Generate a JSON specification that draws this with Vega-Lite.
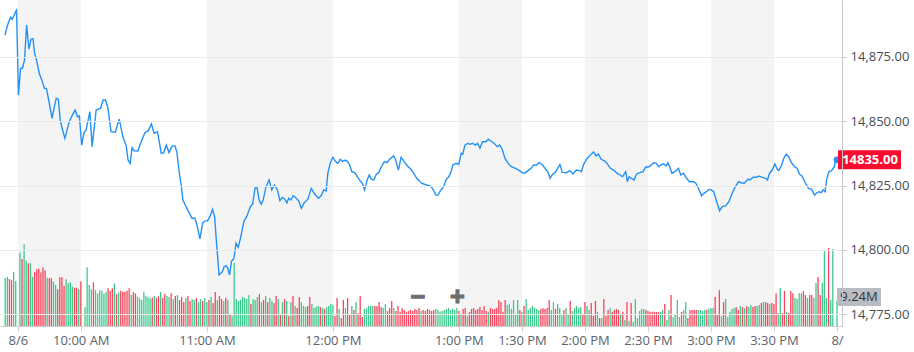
{
"$schema": "https://vega.github.io/schema/vega-lite/v6.json",
"width": 842, "height": 326,
"autosize": {"type": "none"},
"padding": {"left": 0, "top": 0, "right": 72, "bottom": 26},
"background": "white",
"config": {"view": {"stroke": null}, "font": "Open Sans"},
"datasets": {
"bands": [{"m":0,"m2":30},{"m":90,"m2":150},{"m":210,"m2":240},{"m":270,"m2":300},{"m":330,"m2":360}],
"last": [{"m":390,"p":14835,"v":9.24,"lp":"14835.00","lv":"9.24M"}],
"price": [
{"m":-6.1,"p":14883.4},{"m":-5.3,"p":14886.0},{"m":-4.6,"p":14888.0},{"m":-3.4,"p":14890.3},{"m":-2.7,"p":14889.5},{"m":-1.9,"p":14890.8},{"m":-0.9,"p":14892.7},{"m":-0.6,"p":14893.1},{"m":0.3,"p":14860.1},{"m":1.3,"p":14870.5},{"m":2.2,"p":14870.5},{"m":3.2,"p":14873.7},{"m":4.2,"p":14887.3},{"m":5.3,"p":14877.9},{"m":6.3,"p":14881.8},{"m":7.2,"p":14882.1},{"m":8.0,"p":14876.3},{"m":8.9,"p":14873.7},{"m":10.2,"p":14868.6},{"m":11.4,"p":14866.0},{"m":12.7,"p":14862.7},{"m":13.6,"p":14862.7},{"m":14.7,"p":14858.2},{"m":16.3,"p":14851.1},{"m":17.4,"p":14855.6},{"m":18.3,"p":14858.9},{"m":19.3,"p":14858.5},{"m":20.2,"p":14850.4},{"m":21.3,"p":14846.6},{"m":22.4,"p":14843.3},{"m":24.5,"p":14849.8},{"m":26.0,"p":14852.4},{"m":27.3,"p":14854.3},{"m":28.4,"p":14851.7},{"m":29.3,"p":14852.0},{"m":30.4,"p":14840.7},{"m":31.5,"p":14845.5},{"m":32.5,"p":14846.6},{"m":34.3,"p":14853.7},{"m":35.4,"p":14840.1},{"m":37.3,"p":14854.3},{"m":39.4,"p":14855.0},{"m":40.6,"p":14858.2},{"m":41.7,"p":14858.2},{"m":42.8,"p":14855.6},{"m":44.4,"p":14845.9},{"m":46.4,"p":14845.7},{"m":48.3,"p":14850.8},{"m":50.0,"p":14844.0},{"m":51.6,"p":14840.5},{"m":52.5,"p":14834.9},{"m":53.5,"p":14833.6},{"m":54.4,"p":14839.7},{"m":55.4,"p":14838.5},{"m":57.2,"p":14838.4},{"m":58.5,"p":14841.6},{"m":60.5,"p":14845.5},{"m":62.1,"p":14846.3},{"m":63.6,"p":14848.9},{"m":64.9,"p":14845.3},{"m":66.5,"p":14845.9},{"m":68.3,"p":14837.5},{"m":69.5,"p":14837.8},{"m":70.7,"p":14840.7},{"m":72.0,"p":14837.8},{"m":73.5,"p":14840.4},{"m":74.8,"p":14840.4},{"m":75.7,"p":14838.1},{"m":77.0,"p":14829.1},{"m":77.8,"p":14825.2},{"m":78.6,"p":14819.4},{"m":80.1,"p":14816.8},{"m":81.7,"p":14814.2},{"m":82.9,"p":14812.3},{"m":84.3,"p":14812.3},{"m":85.3,"p":14809.7},{"m":86.7,"p":14804.3},{"m":88.0,"p":14810.4},{"m":89.2,"p":14811.3},{"m":90.3,"p":14811.3},{"m":91.6,"p":14813.2},{"m":92.7,"p":14815.8},{"m":93.7,"p":14812.9},{"m":94.5,"p":14803.9},{"m":95.8,"p":14790.3},{"m":97.4,"p":14791.6},{"m":98.2,"p":14793.5},{"m":99.2,"p":14793.9},{"m":100.0,"p":14792.9},{"m":100.8,"p":14790.3},{"m":101.7,"p":14795.5},{"m":102.9,"p":14796.8},{"m":103.9,"p":14802.6},{"m":104.9,"p":14801.0},{"m":106.0,"p":14804.5},{"m":107.6,"p":14811.0},{"m":109.1,"p":14813.2},{"m":110.7,"p":14816.8},{"m":111.8,"p":14817.8},{"m":113.0,"p":14824.2},{"m":113.8,"p":14824.6},{"m":114.9,"p":14819.4},{"m":115.9,"p":14817.7},{"m":116.8,"p":14819.4},{"m":118.1,"p":14824.3},{"m":119.6,"p":14827.2},{"m":120.9,"p":14823.3},{"m":122.2,"p":14825.2},{"m":123.6,"p":14823.3},{"m":124.8,"p":14819.1},{"m":125.9,"p":14820.4},{"m":127.1,"p":14819.7},{"m":128.1,"p":14818.3},{"m":129.0,"p":14820.1},{"m":130.0,"p":14819.4},{"m":131.1,"p":14821.0},{"m":132.6,"p":14820.1},{"m":133.7,"p":14819.1},{"m":135.0,"p":14816.2},{"m":136.3,"p":14818.3},{"m":138.1,"p":14819.7},{"m":139.7,"p":14823.9},{"m":141.3,"p":14821.7},{"m":143.1,"p":14820.1},{"m":144.4,"p":14821.0},{"m":145.7,"p":14823.3},{"m":146.8,"p":14822.9},{"m":147.6,"p":14829.8},{"m":148.8,"p":14833.9},{"m":150.0,"p":14836.0},{"m":151.1,"p":14834.5},{"m":152.3,"p":14833.6},{"m":153.5,"p":14835.2},{"m":154.6,"p":14834.3},{"m":155.8,"p":14834.9},{"m":157.0,"p":14834.3},{"m":158.0,"p":14833.0},{"m":159.0,"p":14830.4},{"m":160.4,"p":14830.0},{"m":161.7,"p":14828.4},{"m":162.9,"p":14826.9},{"m":164.0,"p":14825.9},{"m":165.1,"p":14823.3},{"m":166.4,"p":14827.4},{"m":167.3,"p":14829.1},{"m":168.3,"p":14827.4},{"m":169.5,"p":14827.2},{"m":170.7,"p":14829.4},{"m":171.8,"p":14830.0},{"m":173.1,"p":14832.3},{"m":174.5,"p":14834.3},{"m":175.8,"p":14833.9},{"m":177.0,"p":14835.2},{"m":178.9,"p":14836.5},{"m":179.8,"p":14835.2},{"m":181.2,"p":14831.0},{"m":182.5,"p":14836.0},{"m":183.9,"p":14834.3},{"m":185.5,"p":14832.6},{"m":187.1,"p":14831.3},{"m":188.3,"p":14830.0},{"m":189.9,"p":14827.8},{"m":191.1,"p":14826.9},{"m":192.2,"p":14825.9},{"m":193.3,"p":14825.6},{"m":194.6,"p":14825.2},{"m":196.5,"p":14824.8},{"m":197.7,"p":14823.5},{"m":199.0,"p":14821.3},{"m":200.0,"p":14821.3},{"m":201.2,"p":14823.0},{"m":202.7,"p":14824.6},{"m":204.0,"p":14827.4},{"m":205.2,"p":14828.4},{"m":206.3,"p":14830.4},{"m":207.1,"p":14833.0},{"m":208.7,"p":14833.6},{"m":209.9,"p":14833.2},{"m":211.1,"p":14837.5},{"m":211.8,"p":14837.2},{"m":212.9,"p":14840.7},{"m":214.2,"p":14841.4},{"m":215.3,"p":14841.0},{"m":216.5,"p":14841.4},{"m":217.8,"p":14840.7},{"m":218.9,"p":14841.4},{"m":220.0,"p":14839.5},{"m":221.2,"p":14842.0},{"m":222.8,"p":14842.0},{"m":224.0,"p":14843.0},{"m":225.2,"p":14842.3},{"m":226.7,"p":14841.4},{"m":228.3,"p":14840.1},{"m":229.4,"p":14840.7},{"m":230.6,"p":14839.1},{"m":231.9,"p":14835.6},{"m":233.4,"p":14833.6},{"m":235.0,"p":14832.3},{"m":236.9,"p":14831.7},{"m":238.5,"p":14831.0},{"m":240.0,"p":14830.0},{"m":241.3,"p":14829.8},{"m":242.9,"p":14830.8},{"m":244.4,"p":14831.7},{"m":245.5,"p":14833.0},{"m":247.1,"p":14833.0},{"m":248.2,"p":14834.0},{"m":249.8,"p":14833.0},{"m":251.0,"p":14831.7},{"m":252.3,"p":14830.4},{"m":253.4,"p":14827.8},{"m":254.6,"p":14829.4},{"m":255.7,"p":14830.0},{"m":257.0,"p":14831.7},{"m":258.1,"p":14833.2},{"m":259.2,"p":14830.1},{"m":261.2,"p":14830.0},{"m":262.8,"p":14830.8},{"m":264.3,"p":14829.5},{"m":265.9,"p":14831.0},{"m":267.5,"p":14830.8},{"m":268.3,"p":14830.4},{"m":269.5,"p":14833.4},{"m":271.1,"p":14835.6},{"m":272.7,"p":14836.9},{"m":274.1,"p":14838.1},{"m":275.3,"p":14836.5},{"m":276.4,"p":14837.2},{"m":277.7,"p":14835.2},{"m":279.3,"p":14834.6},{"m":280.5,"p":14833.6},{"m":282.1,"p":14831.7},{"m":283.6,"p":14831.0},{"m":285.2,"p":14829.8},{"m":286.8,"p":14829.1},{"m":287.9,"p":14828.4},{"m":289.4,"p":14830.4},{"m":290.2,"p":14826.5},{"m":291.0,"p":14828.4},{"m":292.1,"p":14827.8},{"m":293.4,"p":14827.2},{"m":294.6,"p":14829.5},{"m":296.2,"p":14830.0},{"m":297.7,"p":14830.4},{"m":298.8,"p":14832.1},{"m":300.4,"p":14832.3},{"m":301.6,"p":14833.0},{"m":302.8,"p":14833.9},{"m":304.0,"p":14833.6},{"m":305.1,"p":14832.3},{"m":306.2,"p":14833.0},{"m":307.5,"p":14833.4},{"m":308.7,"p":14832.6},{"m":309.5,"p":14833.9},{"m":310.6,"p":14831.7},{"m":311.4,"p":14829.8},{"m":312.9,"p":14830.4},{"m":314.5,"p":14831.7},{"m":315.6,"p":14829.1},{"m":316.9,"p":14829.8},{"m":318.1,"p":14828.2},{"m":319.7,"p":14826.5},{"m":321.6,"p":14826.5},{"m":322.8,"p":14825.9},{"m":324.4,"p":14823.3},{"m":325.5,"p":14821.0},{"m":326.6,"p":14822.0},{"m":327.8,"p":14822.6},{"m":328.9,"p":14823.5},{"m":330.2,"p":14823.3},{"m":331.3,"p":14822.6},{"m":332.5,"p":14819.4},{"m":334.1,"p":14815.2},{"m":335.4,"p":14816.8},{"m":336.9,"p":14817.1},{"m":338.5,"p":14818.7},{"m":340.1,"p":14822.0},{"m":341.6,"p":14824.6},{"m":343.2,"p":14826.5},{"m":344.3,"p":14826.1},{"m":345.9,"p":14825.9},{"m":347.5,"p":14827.4},{"m":348.5,"p":14827.2},{"m":350.1,"p":14828.2},{"m":351.7,"p":14828.2},{"m":352.9,"p":14828.7},{"m":354.5,"p":14828.2},{"m":356.1,"p":14827.8},{"m":356.9,"p":14827.2},{"m":357.9,"p":14829.8},{"m":359.2,"p":14831.0},{"m":360.4,"p":14833.4},{"m":361.6,"p":14831.3},{"m":362.3,"p":14830.8},{"m":363.6,"p":14833.0},{"m":364.7,"p":14835.6},{"m":365.8,"p":14837.2},{"m":367.0,"p":14836.2},{"m":368.3,"p":14833.9},{"m":369.8,"p":14832.3},{"m":371.0,"p":14831.7},{"m":372.1,"p":14829.5},{"m":373.3,"p":14828.7},{"m":374.9,"p":14826.1},{"m":376.4,"p":14823.9},{"m":378.0,"p":14823.5},{"m":379.3,"p":14821.3},{"m":380.4,"p":14822.2},{"m":381.5,"p":14822.6},{"m":382.4,"p":14822.2},{"m":383.5,"p":14823.3},{"m":384.3,"p":14822.6},{"m":385.1,"p":14827.4},{"m":386.2,"p":14830.4},{"m":387.4,"p":14830.8},{"m":388.7,"p":14832.3},{"m":389.3,"p":14834.9},{"m":390,"p":14835.0}
],
"vol": [
{"m":-6,"v":17.7,"c":"G"},{"m":-5,"v":18.0,"c":"G"},{"m":-4,"v":17.3,"c":"R"},{"m":-3,"v":16.9,"c":"R"},{"m":-2,"v":19.9,"c":"G"},{"m":-1,"v":16.6,"c":"G"},
{"m":1,"v":27.1,"c":"G"},{"m":2,"v":24.7,"c":"R"},{"m":3,"v":30.1,"c":"G"},{"m":4,"v":24.0,"c":"G"},{"m":5,"v":23.1,"c":"R"},{"m":6,"v":23.1,"c":"G"},{"m":7,"v":18.1,"c":"G"},{"m":8,"v":19.8,"c":"R"},{"m":9,"v":20.9,"c":"R"},{"m":10,"v":21.2,"c":"R"},{"m":11,"v":19.8,"c":"R"},{"m":12,"v":21.6,"c":"R"},{"m":13,"v":20.4,"c":"R"},{"m":14,"v":17.8,"c":"G"},{"m":15,"v":17.6,"c":"R"},{"m":16,"v":17.6,"c":"R"},{"m":17,"v":16.3,"c":"G"},{"m":18,"v":15.1,"c":"G"},{"m":19,"v":13.5,"c":"R"},{"m":20,"v":17.9,"c":"R"},{"m":21,"v":17.9,"c":"R"},{"m":22,"v":14.8,"c":"R"},{"m":23,"v":17.2,"c":"G"},{"m":24,"v":15.7,"c":"G"},{"m":25,"v":16.1,"c":"G"},{"m":26,"v":14.5,"c":"G"},{"m":27,"v":14.1,"c":"R"},{"m":28,"v":14.1,"c":"R"},{"m":29,"v":13.5,"c":"G"},{"m":30,"v":16.4,"c":"R"},
{"m":32,"v":6.9,"c":"G"},{"m":33,"v":21.6,"c":"G"},{"m":34,"v":15.1,"c":"G"},{"m":35,"v":13.5,"c":"G"},{"m":36,"v":16.1,"c":"R"},{"m":37,"v":13.2,"c":"G"},{"m":38,"v":12.0,"c":"G"},{"m":39,"v":13.2,"c":"G"},{"m":40,"v":13.0,"c":"G"},{"m":41,"v":12.0,"c":"G"},{"m":42,"v":12.6,"c":"G"},{"m":43,"v":13.9,"c":"R"},{"m":44,"v":13.0,"c":"R"},{"m":45,"v":13.9,"c":"R"},{"m":46,"v":15.7,"c":"G"},{"m":47,"v":11.7,"c":"R"},{"m":48,"v":12.4,"c":"G"},{"m":49,"v":13.0,"c":"R"},{"m":50,"v":12.6,"c":"R"},{"m":51,"v":12.6,"c":"R"},{"m":52,"v":13.0,"c":"R"},{"m":53,"v":13.9,"c":"R"},{"m":54,"v":11.4,"c":"G"},{"m":55,"v":12.4,"c":"R"},{"m":56,"v":12.0,"c":"R"},{"m":57,"v":10.8,"c":"G"},{"m":58,"v":10.2,"c":"G"},{"m":59,"v":9.6,"c":"G"},{"m":60,"v":12.6,"c":"G"},{"m":61,"v":11.0,"c":"G"},{"m":62,"v":10.6,"c":"G"},{"m":63,"v":10.2,"c":"G"},{"m":64,"v":10.5,"c":"R"},{"m":65,"v":11.0,"c":"G"},{"m":66,"v":10.3,"c":"R"},
{"m":67,"v":11.0,"c":"R"},{"m":68,"v":12.5,"c":"G"},{"m":69,"v":10.3,"c":"R"},{"m":70,"v":11.8,"c":"R"},{"m":71,"v":11.0,"c":"G"},{"m":72,"v":10.7,"c":"G"},{"m":73,"v":12.1,"c":"R"},{"m":74,"v":9.9,"c":"G"},{"m":75,"v":11.0,"c":"R"},{"m":76,"v":11.4,"c":"G"},{"m":77,"v":9.6,"c":"R"},{"m":78,"v":10.7,"c":"R"},{"m":79,"v":8.8,"c":"R"},{"m":80,"v":10.3,"c":"G"},{"m":81,"v":11.0,"c":"R"},{"m":82,"v":9.2,"c":"R"},{"m":83,"v":9.9,"c":"G"},{"m":84,"v":9.6,"c":"G"},{"m":85,"v":10.3,"c":"R"},{"m":86,"v":8.8,"c":"G"},{"m":87,"v":9.9,"c":"G"},{"m":88,"v":9.2,"c":"R"},{"m":89,"v":10.3,"c":"G"},{"m":90,"v":8.8,"c":"G"},{"m":91,"v":9.6,"c":"R"},{"m":92,"v":10.7,"c":"G"},{"m":93,"v":8.5,"c":"R"},{"m":94,"v":12.5,"c":"R"},{"m":95,"v":9.6,"c":"G"},{"m":96,"v":11.0,"c":"R"},{"m":97,"v":9.9,"c":"R"},{"m":98,"v":9.2,"c":"G"},{"m":99,"v":10.3,"c":"R"},{"m":100,"v":9.6,"c":"G"},{"m":101,"v":4.4,"c":"R"},{"m":102,"v":3.7,"c":"G"},{"m":103,"v":23.2,"c":"G"},{"m":104,"v":9.9,"c":"G"},{"m":105,"v":9.2,"c":"G"},{"m":106,"v":9.6,"c":"G"},{"m":107,"v":10.7,"c":"G"},{"m":108,"v":10.3,"c":"G"},{"m":109,"v":9.9,"c":"G"},{"m":110,"v":11.4,"c":"G"},{"m":111,"v":8.1,"c":"R"},{"m":112,"v":9.9,"c":"G"},{"m":113,"v":9.6,"c":"G"},{"m":114,"v":10.7,"c":"G"},{"m":115,"v":11.8,"c":"R"},{"m":116,"v":8.8,"c":"G"},{"m":117,"v":9.6,"c":"R"},{"m":118,"v":11.0,"c":"G"},{"m":119,"v":8.8,"c":"R"},{"m":120,"v":10.3,"c":"G"},{"m":121,"v":9.2,"c":"G"},{"m":122,"v":8.5,"c":"R"},{"m":123,"v":11.0,"c":"R"},{"m":124,"v":9.9,"c":"G"},{"m":125,"v":4.4,"c":"R"},{"m":126,"v":8.8,"c":"G"},{"m":127,"v":9.9,"c":"R"},{"m":128,"v":9.2,"c":"G"},{"m":129,"v":3.7,"c":"R"},{"m":130,"v":8.8,"c":"G"},{"m":131,"v":11.0,"c":"R"},{"m":132,"v":7.4,"c":"G"},{"m":133,"v":6.6,"c":"R"},{"m":134,"v":10.7,"c":"R"},{"m":135,"v":8.8,"c":"G"},{"m":136,"v":7.4,"c":"G"},{"m":137,"v":7.0,"c":"G"},{"m":138,"v":7.4,"c":"R"},{"m":139,"v":10.7,"c":"R"},{"m":140,"v":8.1,"c":"G"},{"m":141,"v":6.6,"c":"G"},{"m":142,"v":7.0,"c":"G"},{"m":143,"v":7.4,"c":"G"},{"m":144,"v":7.0,"c":"R"},{"m":145,"v":6.6,"c":"G"},{"m":146,"v":6.3,"c":"R"},{"m":147,"v":7.0,"c":"G"},{"m":148,"v":7.4,"c":"G"},{"m":149,"v":8.1,"c":"G"},{"m":150,"v":7.7,"c":"G"},{"m":151,"v":3.7,"c":"R"},{"m":152,"v":10.3,"c":"R"},{"m":153,"v":6.3,"c":"G"},{"m":154,"v":2.9,"c":"R"},{"m":155,"v":9.6,"c":"R"},{"m":156,"v":6.6,"c":"G"},{"m":157,"v":10.3,"c":"R"},{"m":158,"v":4.4,"c":"R"},{"m":159,"v":7.4,"c":"G"},{"m":160,"v":5.9,"c":"R"},{"m":161,"v":8.8,"c":"G"},{"m":162,"v":4.8,"c":"R"},{"m":163,"v":11.0,"c":"R"},{"m":164,"v":3.3,"c":"R"},{"m":165,"v":6.3,"c":"G"},{"m":166,"v":6.6,"c":"G"},{"m":167,"v":7.4,"c":"G"},{"m":168,"v":7.4,"c":"G"},{"m":169,"v":7.4,"c":"G"},{"m":170,"v":7.4,"c":"R"},{"m":171,"v":7.4,"c":"R"},{"m":172,"v":8.8,"c":"R"},{"m":173,"v":7.0,"c":"R"},{"m":174,"v":6.6,"c":"G"},{"m":175,"v":8.1,"c":"G"},{"m":176,"v":5.5,"c":"R"},{"m":177,"v":6.6,"c":"R"},{"m":178,"v":9.2,"c":"R"},{"m":179,"v":6.6,"c":"G"},{"m":180,"v":5.5,"c":"R"},{"m":181,"v":7.4,"c":"R"},{"m":182,"v":5.2,"c":"R"},{"m":183,"v":6.6,"c":"R"},{"m":184,"v":5.9,"c":"R"},{"m":185,"v":5.2,"c":"R"},{"m":186,"v":5.5,"c":"R"},{"m":187,"v":5.9,"c":"R"},{"m":188,"v":5.5,"c":"R"},{"m":189,"v":6.3,"c":"R"},{"m":190,"v":5.9,"c":"R"},{"m":191,"v":6.6,"c":"R"},{"m":192,"v":5.5,"c":"G"},{"m":193,"v":5.9,"c":"R"},{"m":194,"v":5.5,"c":"R"},{"m":195,"v":6.3,"c":"R"},{"m":196,"v":5.9,"c":"R"},{"m":197,"v":5.5,"c":"R"},{"m":198,"v":5.9,"c":"R"},{"m":199,"v":6.3,"c":"G"},{"m":200,"v":5.9,"c":"G"},{"m":201,"v":5.2,"c":"G"},{"m":202,"v":5.5,"c":"G"},{"m":203,"v":5.9,"c":"G"},{"m":204,"v":6.3,"c":"G"},{"m":205,"v":6.6,"c":"G"},{"m":206,"v":5.9,"c":"G"},{"m":207,"v":6.3,"c":"G"},{"m":208,"v":5.9,"c":"G"},{"m":209,"v":6.6,"c":"G"},{"m":210,"v":5.5,"c":"R"},{"m":211,"v":4.4,"c":"G"},{"m":212,"v":6.3,"c":"R"},{"m":213,"v":6.6,"c":"R"},{"m":214,"v":3.7,"c":"G"},{"m":215,"v":5.2,"c":"R"},{"m":216,"v":6.3,"c":"R"},{"m":217,"v":6.6,"c":"R"},{"m":218,"v":5.9,"c":"R"},{"m":219,"v":6.3,"c":"R"},{"m":220,"v":7.0,"c":"R"},{"m":221,"v":5.9,"c":"R"},{"m":222,"v":7.4,"c":"R"},{"m":223,"v":5.5,"c":"R"},{"m":224,"v":5.2,"c":"G"},{"m":225,"v":6.6,"c":"R"},{"m":226,"v":6.3,"c":"R"},{"m":227,"v":6.3,"c":"R"},{"m":228,"v":6.6,"c":"R"},{"m":229,"v":9.6,"c":"R"},{"m":230,"v":8.8,"c":"R"},{"m":231,"v":5.2,"c":"R"},{"m":232,"v":9.6,"c":"R"},{"m":233,"v":7.7,"c":"G"},{"m":234,"v":8.1,"c":"G"},{"m":235,"v":6.3,"c":"G"},{"m":236,"v":9.6,"c":"G"},{"m":237,"v":4.4,"c":"G"},{"m":238,"v":9.6,"c":"G"},{"m":239,"v":5.9,"c":"R"},{"m":240,"v":5.2,"c":"G"},{"m":241,"v":7.4,"c":"R"},{"m":242,"v":9.9,"c":"G"},{"m":243,"v":5.9,"c":"G"},{"m":244,"v":6.6,"c":"G"},{"m":245,"v":7.4,"c":"G"},{"m":246,"v":6.6,"c":"G"},{"m":247,"v":6.3,"c":"G"},{"m":248,"v":5.9,"c":"G"},{"m":249,"v":6.3,"c":"R"},{"m":250,"v":6.6,"c":"R"},{"m":251,"v":6.3,"c":"R"},{"m":252,"v":6.6,"c":"R"},{"m":253,"v":9.6,"c":"R"},{"m":254,"v":5.9,"c":"G"},{"m":255,"v":8.8,"c":"G"},{"m":256,"v":6.3,"c":"R"},{"m":257,"v":8.1,"c":"G"},{"m":258,"v":6.6,"c":"G"},{"m":259,"v":4.0,"c":"G"},{"m":260,"v":5.9,"c":"R"},{"m":261,"v":6.6,"c":"G"},{"m":262,"v":4.4,"c":"G"},{"m":263,"v":9.2,"c":"R"},{"m":264,"v":5.5,"c":"G"},{"m":265,"v":6.6,"c":"G"},{"m":266,"v":7.4,"c":"G"},{"m":267,"v":6.6,"c":"G"},{"m":268,"v":7.0,"c":"G"},{"m":269,"v":4.4,"c":"R"},{"m":270,"v":8.8,"c":"R"},{"m":271,"v":7.4,"c":"G"},{"m":272,"v":5.9,"c":"G"},{"m":273,"v":8.5,"c":"R"},{"m":274,"v":3.7,"c":"R"},{"m":275,"v":9.2,"c":"R"},{"m":276,"v":5.2,"c":"G"},
{"m":277,"v":2.9,"c":"R"},{"m":278,"v":2.9,"c":"G"},{"m":279,"v":9.9,"c":"R"},{"m":280,"v":3.7,"c":"R"},{"m":281,"v":5.9,"c":"R"},{"m":282,"v":6.6,"c":"G"},{"m":283,"v":5.2,"c":"R"},{"m":284,"v":5.9,"c":"R"},{"m":285,"v":6.3,"c":"R"},{"m":286,"v":5.9,"c":"R"},{"m":287,"v":4.4,"c":"G"},{"m":288,"v":5.2,"c":"R"},{"m":289,"v":2.2,"c":"G"},{"m":290,"v":8.8,"c":"R"},{"m":291,"v":1.8,"c":"G"},{"m":292,"v":8.5,"c":"R"},{"m":293,"v":1.5,"c":"G"},{"m":294,"v":9.9,"c":"G"},{"m":295,"v":2.9,"c":"G"},{"m":296,"v":5.5,"c":"G"},{"m":297,"v":6.3,"c":"G"},{"m":298,"v":6.3,"c":"G"},{"m":299,"v":5.9,"c":"R"},{"m":300,"v":5.5,"c":"R"},{"m":301,"v":5.2,"c":"R"},{"m":302,"v":5.2,"c":"R"},{"m":303,"v":5.2,"c":"R"},{"m":304,"v":5.2,"c":"R"},{"m":305,"v":5.2,"c":"R"},{"m":306,"v":5.2,"c":"G"},{"m":307,"v":5.9,"c":"G"},{"m":308,"v":8.1,"c":"R"},{"m":309,"v":2.2,"c":"G"},{"m":310,"v":5.9,"c":"G"},{"m":311,"v":11.4,"c":"R"},{"m":312,"v":3.3,"c":"G"},{"m":313,"v":4.4,"c":"G"},{"m":314,"v":9.6,"c":"G"},{"m":315,"v":3.3,"c":"G"},{"m":316,"v":5.2,"c":"R"},{"m":317,"v":5.9,"c":"G"},{"m":318,"v":8.8,"c":"G"},{"m":319,"v":2.9,"c":"R"},{"m":320,"v":5.9,"c":"R"},{"m":321,"v":5.9,"c":"R"},{"m":322,"v":5.9,"c":"R"},{"m":323,"v":5.9,"c":"R"},{"m":324,"v":5.9,"c":"G"},{"m":325,"v":5.9,"c":"G"},{"m":326,"v":5.5,"c":"G"},{"m":327,"v":5.9,"c":"G"},{"m":328,"v":5.9,"c":"R"},{"m":329,"v":6.3,"c":"G"},{"m":330,"v":6.6,"c":"G"},{"m":331,"v":6.6,"c":"G"},{"m":332,"v":10.7,"c":"R"},{"m":333,"v":4.0,"c":"R"},{"m":334,"v":13.2,"c":"R"},{"m":335,"v":3.7,"c":"G"},{"m":336,"v":8.8,"c":"R"},{"m":337,"v":9.9,"c":"G"},{"m":338,"v":3.3,"c":"G"},{"m":339,"v":5.2,"c":"G"},{"m":340,"v":6.3,"c":"G"},{"m":341,"v":6.6,"c":"G"},{"m":342,"v":7.0,"c":"R"},{"m":343,"v":5.9,"c":"R"},{"m":344,"v":7.4,"c":"G"},{"m":345,"v":7.0,"c":"R"},{"m":346,"v":6.6,"c":"G"},{"m":347,"v":7.4,"c":"R"},{"m":348,"v":7.0,"c":"G"},{"m":349,"v":7.7,"c":"G"},{"m":350,"v":7.0,"c":"R"},{"m":351,"v":7.4,"c":"R"},{"m":352,"v":7.4,"c":"G"},{"m":353,"v":7.7,"c":"G"},{"m":354,"v":8.5,"c":"R"},{"m":355,"v":8.8,"c":"G"},{"m":356,"v":8.8,"c":"R"},{"m":357,"v":8.5,"c":"R"},{"m":358,"v":8.1,"c":"G"},{"m":359,"v":8.5,"c":"R"},{"m":360,"v":8.1,"c":"R"},{"m":361,"v":12.1,"c":"R"},{"m":362,"v":4.8,"c":"G"},{"m":363,"v":14.0,"c":"G"},{"m":364,"v":4.8,"c":"R"},{"m":365,"v":12.9,"c":"R"},{"m":366,"v":5.2,"c":"G"},{"m":367,"v":4.8,"c":"R"},{"m":368,"v":12.9,"c":"R"},
{"m":369,"v":12.1,"c":"R"},{"m":370,"v":10.3,"c":"G"},{"m":371,"v":9.9,"c":"G"},{"m":372,"v":12.1,"c":"G"},{"m":373,"v":12.1,"c":"G"},{"m":374,"v":12.9,"c":"R"},{"m":375,"v":11.4,"c":"R"},{"m":376,"v":10.3,"c":"G"},{"m":377,"v":11.4,"c":"R"},{"m":378,"v":11.4,"c":"R"},{"m":379,"v":10.3,"c":"G"},{"m":380,"v":15.8,"c":"G"},{"m":381,"v":18.0,"c":"R"},{"m":382,"v":11.4,"c":"R"},{"m":383,"v":15.8,"c":"G"},{"m":384,"v":28.0,"c":"G"},{"m":385,"v":10.3,"c":"G"},{"m":386,"v":28.7,"c":"R"},{"m":387,"v":9.6,"c":"G"},{"m":388,"v":28.3,"c":"G"},{"m":390,"v":9.24,"c":"G"}
]
},
"encoding": {
  "x": {"field": "m", "type": "quantitative",
    "scale": {"domain": [-6.1, 390], "nice": false, "zero": false},
    "axis": {"values": [0,30,90,150,210,240,270,300,330,360,390],
      "labelExpr": "datum.value == 0 ? '8/6' : datum.value == 30 ? '10:00 AM' : datum.value == 90 ? '11:00 AM' : datum.value == 150 ? '12:00 PM' : datum.value == 210 ? '1:00 PM' : datum.value == 240 ? '1:30 PM' : datum.value == 270 ? '2:00 PM' : datum.value == 300 ? '2:30 PM' : datum.value == 330 ? '3:00 PM' : datum.value == 360 ? '3:30 PM' : '8/'",
      "title": null, "grid": false, "domainColor": "#cfcfcf", "tickColor": "#cfcfcf", "tickSize": 5,
      "labelPadding": 3, "labelFontSize": 13, "labelColor": "#5b636a", "labelFont": "Open Sans",
      "labelFlush": true, "labelOverlap": false}}
},
"layer": [
  {"data": {"name": "bands"}, "mark": {"type": "rect", "color": "#f4f4f4"},
   "encoding": {"x2": {"field": "m2"}}},
  {"data": {"name": "vol"}, "mark": {"type": "bar", "size": 1.3},
   "encoding": {
     "y": {"field": "v", "type": "quantitative", "scale": {"domain": [0, 120], "nice": false, "zero": true}, "axis": null},
     "color": {"field": "c", "type": "nominal", "scale": {"domain": ["G", "R"], "range": ["#3dc98d", "#f8445a"]}, "legend": null}}},
  {"data": {"name": "price"}, "mark": {"type": "line", "color": "#2391f5", "strokeWidth": 1.4},
   "encoding": {
     "y": {"field": "p", "type": "quantitative", "scale": {"domain": [14770.5, 14897], "nice": false, "zero": false},
       "axis": {"orient": "right", "values": [14775, 14800, 14825, 14850, 14875], "format": ",.2f", "title": null,
         "grid": true, "gridColor": "#ebebeb", "domainColor": "#c4c4c4", "tickColor": "#c4c4c4", "tickSize": 4,
         "labelPadding": 4, "labelFontSize": 13, "labelColor": "#464e56", "labelFont": "Open Sans", "zindex": 1}}}},
  {"data": {"name": "last"}, "mark": {"type": "point", "filled": true, "size": 45, "color": "#2391f5", "opacity": 1},
   "encoding": {"y": {"field": "p", "type": "quantitative", "scale": {"domain": [14770.5, 14897], "nice": false, "zero": false}, "axis": null}}},
  {"data": {"name": "last"}, "mark": {"type": "point", "shape": "M0,-0.3016L2,-0.3016L2,0.3016L0,0.3016Z", "size": 3969, "filled": true, "color": "#fb0b2f", "opacity": 1, "xOffset": 1},
   "encoding": {"y": {"field": "p", "type": "quantitative", "scale": {"domain": [14770.5, 14897], "nice": false, "zero": false}, "axis": null}}},
  {"data": {"name": "last"}, "mark": {"type": "text", "dx": 33, "align": "center", "baseline": "middle", "fontWeight": "bold", "fontSize": 13, "color": "white", "font": "Open Sans"},
   "encoding": {"y": {"field": "p", "type": "quantitative", "scale": {"domain": [14770.5, 14897], "nice": false, "zero": false}, "axis": null}, "text": {"field": "lp"}}},
  {"data": {"name": "last"}, "mark": {"type": "point", "shape": "M0,-0.409L2,-0.409L2,0.409L0,0.409Z", "size": 1936, "filled": true, "color": "#b9bcc3", "opacity": 1, "yOffset": -4},
   "encoding": {"y": {"field": "v", "type": "quantitative", "scale": {"domain": [0, 120], "nice": false, "zero": true}, "axis": null}}},
  {"data": {"name": "last"}, "mark": {"type": "text", "dx": 22, "dy": -4, "align": "center", "baseline": "middle", "fontSize": 13, "color": "#2f3438", "font": "Open Sans"},
   "encoding": {"y": {"field": "v", "type": "quantitative", "scale": {"domain": [0, 120], "nice": false, "zero": true}, "axis": null}, "text": {"field": "lv"}}},
  {"data": {"values": [{}]}, "mark": {"type": "rect", "fill": "#f1f1f1", "fillOpacity": 0.88, "stroke": "#dddddd", "strokeWidth": 1},
   "encoding": {"x": {"datum": 180.6}, "x2": {"datum": 218.7},
     "y": {"datum": 14787.2, "type": "quantitative", "scale": {"domain": [14770.5, 14897], "nice": false, "zero": false}, "axis": null}, "y2": {"datum": 14775.9}}},
  {"data": {"values": [{}]}, "mark": {"type": "rule", "color": "#d6d6d6", "strokeWidth": 1},
   "encoding": {"x": {"datum": 199.9},
     "y": {"datum": 14786.8, "type": "quantitative", "scale": {"domain": [14770.5, 14897], "nice": false, "zero": false}, "axis": null}, "y2": {"datum": 14776.3}}},
  {"data": {"values": [{"t": "−", "k": 190.5}, {"t": "+", "k": 209.3}]}, "mark": {"type": "text", "fontSize": 26, "fontWeight": "bold", "color": "#6e6e6e", "stroke": "#6e6e6e", "strokeWidth": 1.2, "align": "center", "baseline": "middle", "font": "Open Sans"},
   "encoding": {"x": {"field": "k", "type": "quantitative"},
     "y": {"datum": 14781.2, "type": "quantitative", "scale": {"domain": [14770.5, 14897], "nice": false, "zero": false}, "axis": null}, "text": {"field": "t"}}}
],
"resolve": {"scale": {"y": "independent"}}
}
